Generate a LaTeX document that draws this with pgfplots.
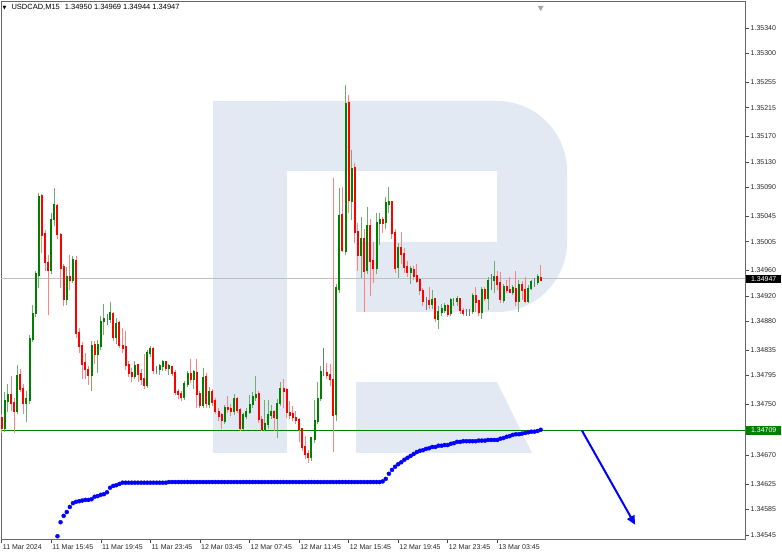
\documentclass[border=0pt]{standalone}
\usepackage{pgfplots}
\pgfplotsset{compat=1.18}
\usepackage{pgfplotstable}
\usepackage{fontspec}
\setmainfont{Liberation Sans}
\newfontfamily\dejavu{DejaVu Sans}
\usetikzlibrary{arrows.meta}
\definecolor{wm}{RGB}{227,233,242}
\definecolor{mtgreen}{RGB}{0,128,0}
\definecolor{wickred}{RGB}{255,130,130}
\definecolor{wickgreen}{RGB}{110,175,110}

\pgfplotstableread{
i o h l c d
0 1.34729 1.34735 1.34705 1.34713 -1
1 1.34713 1.34770 1.34708 1.34755 1
2 1.34755 1.34782 1.34738 1.34765 1
3 1.34765 1.34795 1.34740 1.34752 -1
4 1.34752 1.34760 1.34705 1.34740 -1
5 1.34740 1.34812 1.34735 1.34796 1
6 1.34796 1.34805 1.34770 1.34775 -1
7 1.34775 1.34782 1.34735 1.34753 -1
8 1.34753 1.34770 1.34722 1.34758 1
9 1.34758 1.34858 1.34750 1.34854 1
10 1.34854 1.34906 1.34848 1.34893 1
11 1.34893 1.34960 1.34888 1.34954 1
12 1.34954 1.35082 1.34932 1.35077 1
13 1.35077 1.35080 1.34987 1.35017 -1
14 1.35017 1.35025 1.34960 1.34972 -1
15 1.34972 1.34985 1.34890 1.34962 -1
16 1.34962 1.35050 1.34955 1.35040 1
17 1.35040 1.35090 1.35030 1.35062 1
18 1.35062 1.35065 1.35010 1.35017 -1
19 1.35017 1.35020 1.34934 1.34965 -1
20 1.34965 1.34970 1.34905 1.34916 -1
21 1.34916 1.34965 1.34906 1.34950 1
22 1.34950 1.34985 1.34930 1.34945 -1
23 1.34945 1.34982 1.34940 1.34976 1
24 1.34976 1.34983 1.34855 1.34862 -1
25 1.34862 1.34870 1.34830 1.34842 -1
26 1.34842 1.34848 1.34790 1.34814 -1
27 1.34814 1.34832 1.34790 1.34806 -1
28 1.34806 1.34810 1.34781 1.34798 -1
29 1.34798 1.34850 1.34772 1.34843 1
30 1.34843 1.34850 1.34815 1.34830 -1
31 1.34830 1.34852 1.34800 1.34843 1
32 1.34843 1.34889 1.34835 1.34880 1
33 1.34880 1.34908 1.34860 1.34884 1
34 1.34884 1.34893 1.34875 1.34884 0
35 1.34884 1.34910 1.34878 1.34893 1
36 1.34893 1.34895 1.34850 1.34857 -1
37 1.34857 1.34885 1.34845 1.34878 1
38 1.34878 1.34880 1.34838 1.34843 -1
39 1.34843 1.34870 1.34830 1.34840 -1
40 1.34840 1.34866 1.34805 1.34812 -1
41 1.34812 1.34818 1.34793 1.34800 -1
42 1.34800 1.34808 1.34786 1.34795 -1
43 1.34795 1.34818 1.34790 1.34812 1
44 1.34812 1.34815 1.34786 1.34798 -1
45 1.34798 1.34805 1.34780 1.34790 -1
46 1.34790 1.34830 1.34775 1.34781 -1
47 1.34781 1.34836 1.34776 1.34832 1
48 1.34832 1.34842 1.34825 1.34838 1
49 1.34838 1.34840 1.34798 1.34805 -1
50 1.34805 1.34810 1.34798 1.34805 0
51 1.34805 1.34815 1.34798 1.34810 1
52 1.34810 1.34820 1.34803 1.34816 1
53 1.34816 1.34818 1.34802 1.34807 -1
54 1.34807 1.34815 1.34798 1.34810 1
55 1.34810 1.34812 1.34795 1.34800 -1
56 1.34800 1.34805 1.34765 1.34770 -1
57 1.34770 1.34775 1.34758 1.34767 -1
58 1.34767 1.34772 1.34755 1.34762 -1
59 1.34762 1.34788 1.34758 1.34783 1
60 1.34783 1.34803 1.34778 1.34798 1
61 1.34798 1.34822 1.34785 1.34790 -1
62 1.34790 1.34805 1.34775 1.34800 1
63 1.34800 1.34822 1.34745 1.34767 -1
64 1.34767 1.34772 1.34745 1.34750 -1
65 1.34750 1.34808 1.34745 1.34793 1
66 1.34793 1.34800 1.34745 1.34752 -1
67 1.34752 1.34778 1.34745 1.34770 1
68 1.34770 1.34775 1.34748 1.34755 -1
69 1.34755 1.34760 1.34735 1.34740 -1
70 1.34740 1.34745 1.34725 1.34733 -1
71 1.34733 1.34738 1.34712 1.34725 -1
72 1.34725 1.34750 1.34720 1.34745 1
73 1.34745 1.34765 1.34738 1.34743 -1
74 1.34743 1.34752 1.34732 1.34740 -1
75 1.34740 1.34768 1.34735 1.34760 1
76 1.34760 1.34762 1.34738 1.34742 -1
77 1.34742 1.34745 1.34709 1.34713 -1
78 1.34713 1.34738 1.34710 1.34733 1
79 1.34733 1.34745 1.34728 1.34740 1
80 1.34740 1.34765 1.34735 1.34751 1
81 1.34751 1.34770 1.34745 1.34762 1
82 1.34762 1.34795 1.34755 1.34766 1
83 1.34766 1.34772 1.34722 1.34727 -1
84 1.34727 1.34732 1.34708 1.34712 -1
85 1.34712 1.34757 1.34709 1.34720 1
86 1.34720 1.34757 1.34712 1.34733 1
87 1.34733 1.34750 1.34728 1.34738 1
88 1.34738 1.34742 1.34709 1.34730 -1
89 1.34730 1.34758 1.34697 1.34752 1
90 1.34752 1.34785 1.34748 1.34775 1
91 1.34775 1.34790 1.34745 1.34772 -1
92 1.34772 1.34776 1.34730 1.34738 -1
93 1.34738 1.34757 1.34728 1.34735 -1
94 1.34735 1.34748 1.34725 1.34730 -1
95 1.34730 1.34740 1.34720 1.34727 -1
96 1.34727 1.34730 1.34692 1.34712 -1
97 1.34712 1.34715 1.34678 1.34683 -1
98 1.34683 1.34700 1.34665 1.34672 -1
99 1.34672 1.34678 1.34659 1.34668 -1
100 1.34668 1.34700 1.34662 1.34697 1
101 1.34697 1.34758 1.34690 1.34725 1
102 1.34725 1.34786 1.34720 1.34760 1
103 1.34760 1.34810 1.34755 1.34800 1
104 1.34800 1.34838 1.34795 1.34800 0
105 1.34800 1.34815 1.34790 1.34797 -1
106 1.34797 1.34815 1.34780 1.34790 -1
107 1.34790 1.35107 1.34676 1.34735 -1
108 1.34735 1.34940 1.34725 1.34932 1
109 1.34932 1.35090 1.34925 1.35047 1
110 1.35047 1.35090 1.34988 1.34992 -1
111 1.34992 1.35251 1.34985 1.35222 1
112 1.35222 1.35235 1.35050 1.35070 -1
113 1.35070 1.35150 1.35040 1.35120 1
114 1.35120 1.35130 1.35005 1.35020 -1
115 1.35020 1.35035 1.34960 1.34985 -1
116 1.34985 1.35045 1.34950 1.35010 1
117 1.35010 1.35025 1.34895 1.34960 -1
118 1.34960 1.35060 1.34955 1.35030 1
119 1.35030 1.35040 1.34920 1.34975 -1
120 1.34975 1.35005 1.34940 1.34965 -1
121 1.34965 1.35050 1.34955 1.35035 1
122 1.35035 1.35050 1.35000 1.35040 1
123 1.35040 1.35045 1.35020 1.35035 -1
124 1.35035 1.35075 1.35025 1.35065 1
125 1.35065 1.35090 1.35050 1.35068 1
126 1.35068 1.35070 1.35010 1.35020 -1
127 1.35020 1.35025 1.34955 1.34965 -1
128 1.34965 1.35005 1.34950 1.34995 1
129 1.34995 1.35020 1.34970 1.34985 -1
130 1.34985 1.34995 1.34955 1.34965 -1
131 1.34965 1.34975 1.34950 1.34958 -1
132 1.34958 1.34968 1.34940 1.34962 1
133 1.34962 1.34968 1.34945 1.34952 -1
134 1.34952 1.34970 1.34940 1.34945 -1
135 1.34945 1.34948 1.34922 1.34929 -1
136 1.34929 1.34932 1.34905 1.34913 -1
137 1.34913 1.34918 1.34898 1.34913 0
138 1.34913 1.34935 1.34900 1.34908 -1
139 1.34908 1.34930 1.34900 1.34915 1
140 1.34915 1.34918 1.34880 1.34885 -1
141 1.34885 1.34905 1.34870 1.34895 1
142 1.34895 1.34908 1.34890 1.34900 1
143 1.34900 1.34910 1.34895 1.34905 1
144 1.34905 1.34908 1.34888 1.34893 -1
145 1.34893 1.34918 1.34890 1.34913 1
146 1.34913 1.34918 1.34905 1.34913 0
147 1.34913 1.34922 1.34905 1.34916 1
148 1.34916 1.34918 1.34893 1.34898 -1
149 1.34898 1.34902 1.34890 1.34895 -1
150 1.34895 1.34900 1.34890 1.34895 0
151 1.34895 1.34900 1.34888 1.34895 0
152 1.34895 1.34925 1.34892 1.34920 1
153 1.34920 1.34935 1.34895 1.34912 -1
154 1.34912 1.34915 1.34890 1.34895 -1
155 1.34895 1.34935 1.34885 1.34930 1
156 1.34930 1.34935 1.34912 1.34918 -1
157 1.34918 1.34950 1.34898 1.34945 1
158 1.34945 1.34955 1.34930 1.34945 0
159 1.34945 1.34975 1.34925 1.34950 1
160 1.34950 1.34960 1.34930 1.34940 -1
161 1.34940 1.34958 1.34910 1.34915 -1
162 1.34915 1.34940 1.34910 1.34935 1
163 1.34935 1.34945 1.34925 1.34930 -1
164 1.34930 1.34950 1.34925 1.34927 -1
165 1.34927 1.34938 1.34922 1.34932 1
166 1.34932 1.34960 1.34905 1.34913 -1
167 1.34913 1.34945 1.34895 1.34938 1
168 1.34938 1.34945 1.34915 1.34930 -1
169 1.34930 1.34950 1.34908 1.34913 -1
170 1.34913 1.34938 1.34910 1.34932 1
171 1.34932 1.34945 1.34928 1.34942 1
172 1.34942 1.34948 1.34935 1.34942 0
173 1.34942 1.34955 1.34938 1.34950 1
174 1.34950 1.34969 1.34944 1.34947 -1
}\candles

\pgfplotstableread{
i v
18 1.34543
19 1.34565
20 1.34575
21 1.34581
22 1.34589
23 1.34595
24 1.34597
25 1.34598
26 1.34599
27 1.34600
28 1.34600
29 1.34601
30 1.34605
31 1.34606
32 1.34608
33 1.34609
34 1.34612
35 1.34619
36 1.34622
37 1.34623
38 1.34625
39 1.34627
40 1.34627
41 1.34627
42 1.34627
43 1.34627
44 1.34627
45 1.34627
46 1.34627
47 1.34627
48 1.34627
49 1.34627
50 1.34627
51 1.34627
52 1.34627
53 1.34627
54 1.34628
55 1.34628
56 1.34628
57 1.34628
58 1.34628
59 1.34628
60 1.34628
61 1.34628
62 1.34628
63 1.34628
64 1.34628
65 1.34628
66 1.34628
67 1.34628
68 1.34628
69 1.34628
70 1.34628
71 1.34628
72 1.34628
73 1.34628
74 1.34628
75 1.34628
76 1.34628
77 1.34628
78 1.34628
79 1.34628
80 1.34628
81 1.34628
82 1.34628
83 1.34628
84 1.34628
85 1.34628
86 1.34628
87 1.34628
88 1.34628
89 1.34628
90 1.34628
91 1.34628
92 1.34628
93 1.34628
94 1.34628
95 1.34628
96 1.34628
97 1.34628
98 1.34628
99 1.34628
100 1.34628
101 1.34628
102 1.34628
103 1.34628
104 1.34628
105 1.34628
106 1.34628
107 1.34628
108 1.34628
109 1.34628
110 1.34628
111 1.34628
112 1.34628
113 1.34628
114 1.34628
115 1.34628
116 1.34628
117 1.34628
118 1.34628
119 1.34628
120 1.34628
121 1.34628
122 1.34628
123 1.34629
124 1.34633
125 1.34641
126 1.34647
127 1.34652
128 1.34656
129 1.34659
130 1.34663
131 1.34666
132 1.34669
133 1.34672
134 1.34675
135 1.34677
136 1.34678
137 1.34680
138 1.34681
139 1.34683
140 1.34683
141 1.34685
142 1.34685
143 1.34686
144 1.34686
145 1.34688
146 1.34689
147 1.34691
148 1.34691
149 1.34692
150 1.34692
151 1.34692
152 1.34692
153 1.34692
154 1.34693
155 1.34693
156 1.34693
157 1.34694
158 1.34694
159 1.34694
160 1.34694
161 1.34696
162 1.34697
163 1.34699
164 1.34700
165 1.34702
166 1.34703
167 1.34703
168 1.34704
169 1.34705
170 1.34706
171 1.34707
172 1.34707
173 1.34708
174 1.34710
}\bluedots

\begin{document}
\begin{tikzpicture}
\useasboundingbox (-1bp,-15bp) rectangle (781bp,539bp);
% watermark logo (pixel coordinates)
\begin{scope}[shift={(-1bp,539bp)}, x=1bp, y=-1bp]
\fill[wm] (213,101) rectangle (287,453);
\fill[wm] (286,101) -- (497,101) arc[start angle=-90,end angle=0,radius=70] -- (567,242) arc[start angle=0,end angle=90,radius=70] -- (356,312) -- (356,242) -- (497,242) -- (497,171) -- (286,171) -- cycle;
\fill[wm] (356,382) -- (497,382) -- (532,453) -- (356,453) -- cycle;
\end{scope}
\begin{axis}[
  at={(0,0)}, anchor=south west,
  scale only axis, width=744bp, height=538bp,
  xmin=-0.23, xmax=239.97, ymin=1.345387, ymax=1.353823,
  clip mode=individual,
  axis line style={black!60, line width=0.7bp},
  tick style={black!70, line width=0.6bp},
  tick align=outside, major tick length=3.5bp,
  xtick pos=lower, ytick pos=right,
  xtick={0,16,32,48,64,80,96,112,128,144,160},
  xticklabels={11 Mar 2024, 11 Mar 15:45, 11 Mar 19:45, 11 Mar 23:45, 12 Mar 03:45, 12 Mar 07:45, 12 Mar 11:45, 12 Mar 15:45, 12 Mar 19:45, 12 Mar 23:45, 13 Mar 03:45},
  ytick={1.34545,1.34585,1.34625,1.34670,1.34750,1.34795,1.34835,1.34880,1.34920,1.34960,1.35005,1.35045,1.35090,1.35130,1.35170,1.35215,1.35255,1.35300,1.35340},
  yticklabels={1.34545,1.34585,1.34625,1.34670,1.34750,1.34795,1.34835,1.34880,1.34920,1.34960,1.35005,1.35045,1.35090,1.35130,1.35170,1.35215,1.35255,1.35300,1.35340},
  scaled y ticks=false,
  tick label style={font=\fontsize{7bp}{8bp}\selectfont, text=black!85},
  xticklabel style={anchor=north west, xshift=-0.5bp, inner xsep=1.5bp, inner ysep=1.5bp},
  yticklabel style={anchor=west, inner xsep=2bp},
  every axis plot/.append style={forget plot},
]
% current price line and level line
\addplot[color=black!25, line width=0.7bp] coordinates {(-1,1.34947) (241,1.34947)};
\addplot[color=mtgreen, line width=1.4bp] coordinates {(-1,1.34709) (241,1.34709)};

% wicks
\addplot[draw=none, mark=none, restrict expr to domain={\thisrow{d}}{-1.5:-0.5},
  error bars/.cd, y dir=both, y explicit, error mark=none,
  error bar style={draw=wickred, line width=1bp}]
  table[x=i, y expr={(\thisrow{h}+\thisrow{l})/2}, y error expr={(\thisrow{h}-\thisrow{l})/2}] {\candles};
\addplot[draw=none, mark=none, restrict expr to domain={\thisrow{d}}{0.5:1.5},
  error bars/.cd, y dir=both, y explicit, error mark=none,
  error bar style={draw=wickgreen, line width=1bp}]
  table[x=i, y expr={(\thisrow{h}+\thisrow{l})/2}, y error expr={(\thisrow{h}-\thisrow{l})/2}] {\candles};
\addplot[draw=none, mark=none, restrict expr to domain={\thisrow{d}}{-0.5:0.5},
  error bars/.cd, y dir=both, y explicit, error mark=none,
  error bar style={draw=black!55, line width=1bp}]
  table[x=i, y expr={(\thisrow{h}+\thisrow{l})/2}, y error expr={(\thisrow{h}-\thisrow{l})/2}] {\candles};

% bodies
\addplot[draw=none, mark=none, restrict expr to domain={\thisrow{d}}{-1.5:-0.5},
  error bars/.cd, y dir=both, y explicit, error mark=none,
  error bar style={draw=red, line width=2bp, line cap=rect}]
  table[x=i, y expr={(\thisrow{o}+\thisrow{c})/2}, y error expr={abs(\thisrow{o}-\thisrow{c})/2}] {\candles};
\addplot[draw=none, mark=none, restrict expr to domain={\thisrow{d}}{0.5:1.5},
  error bars/.cd, y dir=both, y explicit, error mark=none,
  error bar style={draw=mtgreen, line width=2bp, line cap=rect}]
  table[x=i, y expr={(\thisrow{o}+\thisrow{c})/2}, y error expr={abs(\thisrow{o}-\thisrow{c})/2}] {\candles};
\addplot[draw=none, mark=none, restrict expr to domain={\thisrow{d}}{-0.5:0.5},
  error bars/.cd, y dir=both, y explicit, error mark=none,
  error bar style={draw=black, line width=2bp, line cap=rect}]
  table[x=i, y=c, y error expr={0}] {\candles};

% blue indicator dots
\addplot[only marks, mark=*, mark size=2bp, color=blue] table[x=i, y=v] {\bluedots};

% forecast arrow
\addplot[color=blue, line width=2bp, -{Triangle[length=9bp, width=8bp]}] coordinates {(187.3,1.34709) (204.5,1.34561)};

% chart shift marker
\addplot[only marks, mark=triangle*, mark size=3bp, mark options={rotate=180, color=black!35}] coordinates {(174,1.35372)};

% price labels
\node[fill=black, text=white, anchor=west, inner xsep=0pt, inner ysep=1.5bp, minimum width=35bp, xshift=1bp, font=\fontsize{7bp}{8bp}\selectfont] at (axis cs:239.97,1.34947) {1.34947};
\node[fill=mtgreen, text=white, anchor=west, inner xsep=0pt, inner ysep=2bp, minimum width=35bp, xshift=1bp, font=\fontsize{7bp}{8bp}\selectfont] at (axis cs:239.97,1.34709) {1.34709};

% title
\node[anchor=west, inner sep=0pt, font=\fontsize{7.5bp}{8bp}\selectfont] at (rel axis cs:0.002,0.988) {{\dejavu\fontsize{5bp}{6bp}\selectfont ▼}\hspace{5bp}USDCAD,M15\hspace{5bp}1.34950 1.34969 1.34944 1.34947};
\end{axis}
\end{tikzpicture}
\end{document}
